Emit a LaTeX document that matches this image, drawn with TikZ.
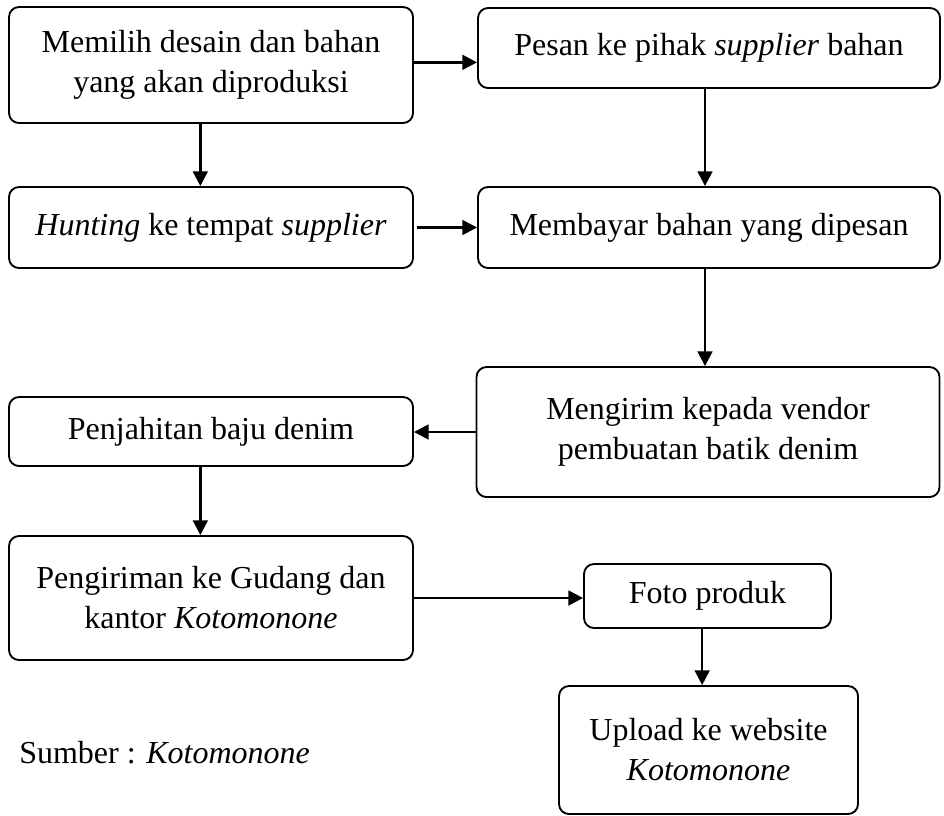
\documentclass[tikz,border=0pt]{standalone}
\usepackage{fontspec}
\setmainfont{Liberation Serif}
\usetikzlibrary{arrows.meta,positioning}

\tikzset{
    stepbox/.style={draw, line width=1.4pt, rounded corners=7.5pt, align=center, inner sep=2pt, font=\fontsize{24}{30}\selectfont},
    flow/.style={line width=1.9pt, -{Triangle[length=11pt, width=11pt]}}
}

\begin{document}
\begin{tikzpicture}[x=0.75pt, y=-0.75pt]
        \useasboundingbox (0, 0) rectangle (944, 815);

        \node[stepbox, minimum width=303pt, minimum height=87pt] (pilih) at (211, 65) {Memilih desain dan bahan\\yang akan diproduksi};
        \node[stepbox, minimum width=346.5pt, minimum height=60pt] (pesan) at (709, 48) {Pesan ke pihak \textit{supplier} bahan};
        \node[stepbox, minimum width=303pt, minimum height=60.75pt] (hunting) at (211, 227.5) {\textit{Hunting} ke tempat \textit{supplier}};
        \node[stepbox, minimum width=346.5pt, minimum height=60.75pt] (bayar) at (709, 227.5) {Membayar bahan yang dipesan};
        \node[stepbox, minimum width=347.25pt, minimum height=97.5pt] (kirim) at (708, 432) {Mengirim kepada vendor\\pembuatan batik denim};
        \node[stepbox, minimum width=303pt, minimum height=51.75pt] (jahit) at (211, 431.5) {Penjahitan baju denim};
        \node[stepbox, minimum width=303pt, minimum height=93pt] (gudang) at (211, 598) {Pengiriman ke Gudang dan\\kantor \textit{Kotomonone}};
        \node[stepbox, minimum width=185.25pt, minimum height=48pt] (foto) at (707.5, 596) {Foto produk};
        \node[stepbox, minimum width=224.25pt, minimum height=96pt] (upload) at (708.5, 750) {Upload ke website\\\textit{Kotomonone}};

        \node[font=\fontsize{24}{30}\selectfont, anchor=base west, inner sep=0pt] (sumber) at (19, 763) {Sumber : \textit{Kotomonone}};

        \draw[flow] ([yshift=2pt]pilih.east) -- ([yshift=2pt]pilih.east -| pesan.west);
        \draw[flow] ([xshift=-8pt]pilih.south) -- ([xshift=-8pt]hunting.north);
        \draw[flow] ([xshift=-3pt]pesan.south) -- ([xshift=-3pt]bayar.north);
        \draw[flow] ([xshift=2pt]hunting.east) -- (bayar.west);
        \draw[flow] ([xshift=-3pt]bayar.south) -- ([xshift=-3pt]bayar.south |- kirim.north);
        \draw[flow] (kirim.west) -- (kirim.west -| jahit.east);
        \draw[flow] ([xshift=-8pt]jahit.south) -- ([xshift=-8pt]gudang.north);
        \draw[flow] (gudang.east) -- (gudang.east -| foto.west);
        \draw[flow] ([xshift=-4pt]foto.south) -- ([xshift=-4pt]foto.south |- upload.north);
    \end{tikzpicture}
\end{document}
